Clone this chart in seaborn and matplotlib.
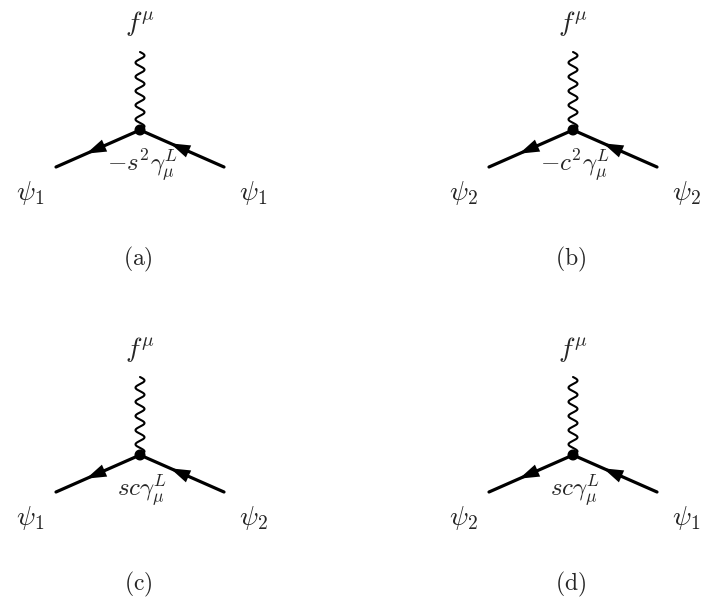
import numpy as np
import pandas as pd
import matplotlib
matplotlib.use("Agg")
import matplotlib.pyplot as plt
from matplotlib.patches import Polygon, Circle
import seaborn as sns

# ---- diagram content ----
panel_tags = ["(a)", "(b)", "(c)", "(d)"]
boson_label = r"$f^{\mu}$"
left_fermions = [r"$\psi_1$", r"$\psi_2$", r"$\psi_1$", r"$\psi_2$"]
right_fermions = [r"$\psi_1$", r"$\psi_2$", r"$\psi_2$", r"$\psi_1$"]
couplings = [r"$-s^2\gamma_\mu^L$", r"$-c^2\gamma_\mu^L$",
             r"$sc\gamma_\mu^L$", r"$sc\gamma_\mu^L$"]

sns.set_theme(style="white")
plt.rcParams["mathtext.fontset"] = "cm"

# layout (pixel units, y down)
col_x = [140, 573]
row_y = [130, 455]
LEG_DX, LEG_DY = 84, 37
WAVE_LEN = 78


def arrow_head(ax, tip, direction, length=20, width=13):
    d = np.asarray(direction, float)
    d /= np.linalg.norm(d)
    n = np.array([-d[1], d[0]])
    tip = np.asarray(tip, float)
    base = tip - d * length
    pts = [tip, base + n * width / 2, base - n * width / 2]
    ax.add_patch(Polygon(pts, closed=True, color="black", lw=0, zorder=4))


fig = plt.figure(figsize=(7.05, 6), dpi=100)
ax = fig.add_axes([0, 0, 1, 1])

for i, tag in enumerate(panel_tags):
    vx = col_x[i % 2]
    vy = row_y[i // 2]

    # fermion legs
    legs = pd.DataFrame({"x": [vx - LEG_DX, vx, vx + LEG_DX],
                         "y": [vy + LEG_DY, vy, vy + LEG_DY]})
    sns.lineplot(data=legs, x="x", y="y", color="black", lw=2.3,
                 sort=False, estimator=None, ax=ax)

    # wavy boson line
    t = np.linspace(0, 1, 400)
    wave = pd.DataFrame({"x": vx + 4.5 * np.sin(2 * np.pi * 5.5 * t),
                         "y": vy - t * WAVE_LEN})
    sns.lineplot(data=wave, x="x", y="y", color="black", lw=1.5,
                 sort=False, estimator=None, ax=ax)

    # arrows: flow in from the right, out to the left
    arrow_head(ax, (vx - 0.64 * LEG_DX, vy + 0.64 * LEG_DY), (-LEG_DX, LEG_DY))
    arrow_head(ax, (vx + 0.36 * LEG_DX, vy + 0.36 * LEG_DY), (-LEG_DX, -LEG_DY))

    ax.add_patch(Circle((vx, vy), 4.8, color="black", zorder=5))

    ax.text(vx, vy - 106, boson_label, fontsize=20, ha="center", va="center")
    ax.text(vx - 110, vy + 63, left_fermions[i], fontsize=20, ha="center", va="center")
    ax.text(vx + 113, vy + 63, right_fermions[i], fontsize=20, ha="center", va="center")
    ax.text(vx + 2, vy + 36, couplings[i], fontsize=18, ha="center", va="center")
    ax.text(vx - 2, vy + 129, r"$\mathrm{" + tag + "}$", fontsize=17,
            ha="center", va="center")

ax.set_xlim(0, 705)
ax.set_ylim(600, 0)
ax.axis("off")
fig.savefig("out.png", dpi=100, facecolor="white")
